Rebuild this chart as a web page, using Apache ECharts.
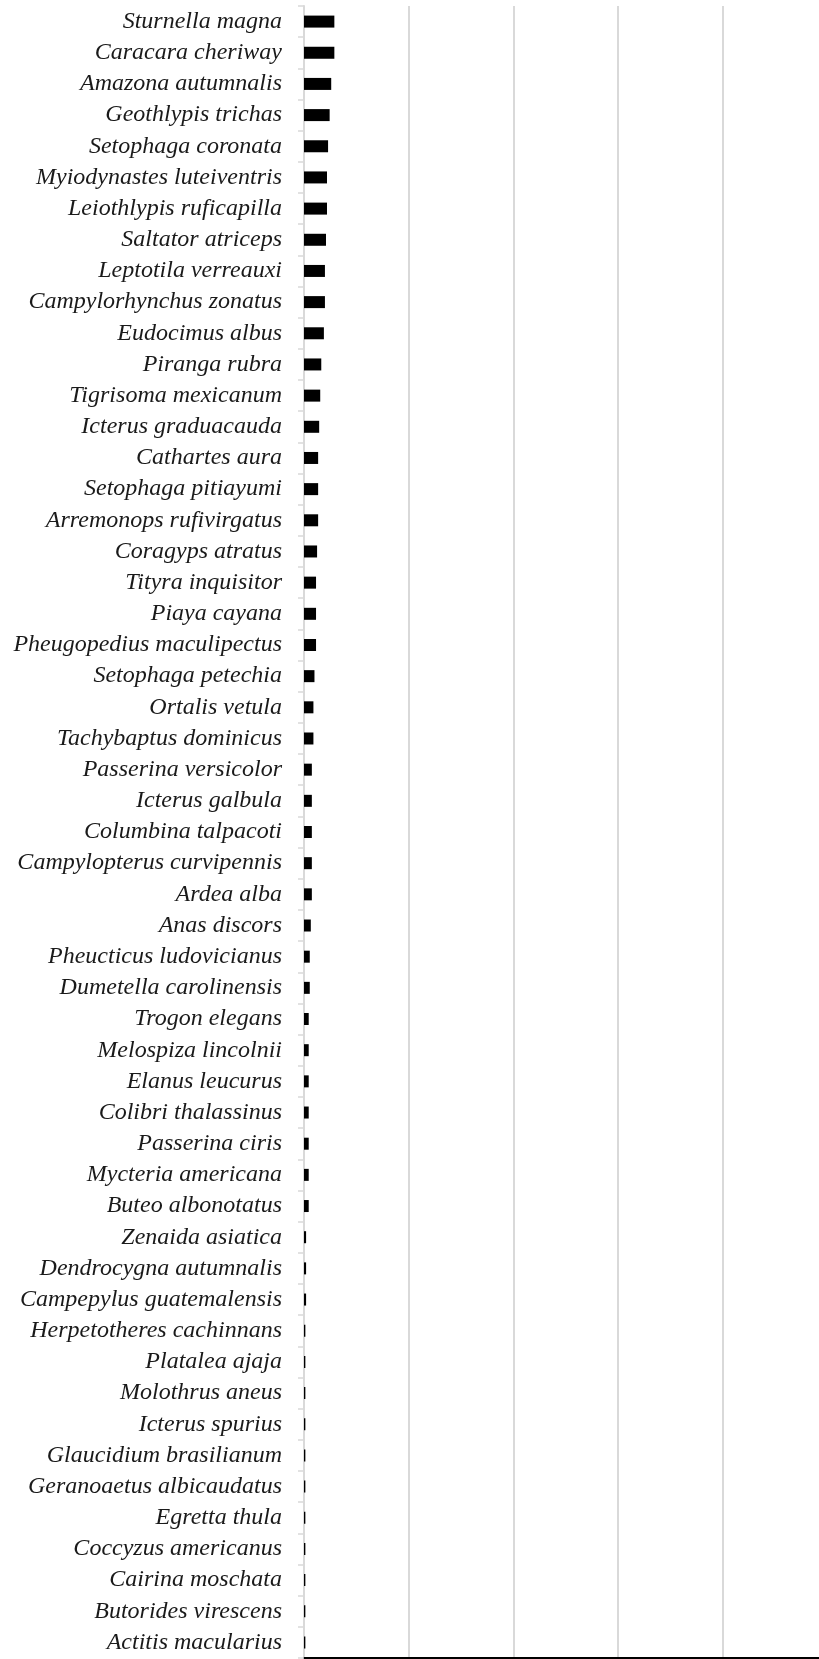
<!DOCTYPE html>
<html>
<head>
<meta charset="utf-8">
<script src="https://cdn.jsdelivr.net/npm/echarts@6/dist/echarts.min.js"></script>
<style>
html,body{margin:0;padding:0;background:#fff;}
#c{width:819px;height:1659px;}
</style>
</head>
<body>
<div id="c"></div>
<script>
const species = [
  "Sturnella magna","Caracara cheriway","Amazona autumnalis","Geothlypis trichas",
  "Setophaga coronata","Myiodynastes luteiventris","Leiothlypis ruficapilla","Saltator atriceps",
  "Leptotila verreauxi","Campylorhynchus zonatus","Eudocimus albus","Piranga rubra",
  "Tigrisoma mexicanum","Icterus graduacauda","Cathartes aura","Setophaga pitiayumi",
  "Arremonops rufivirgatus","Coragyps atratus","Tityra inquisitor","Piaya cayana",
  "Pheugopedius maculipectus","Setophaga petechia","Ortalis vetula","Tachybaptus dominicus",
  "Passerina versicolor","Icterus galbula","Columbina talpacoti","Campylopterus curvipennis",
  "Ardea alba","Anas discors","Pheucticus ludovicianus","Dumetella carolinensis",
  "Trogon elegans","Melospiza lincolnii","Elanus leucurus","Colibri thalassinus",
  "Passerina ciris","Mycteria americana","Buteo albonotatus","Zenaida asiatica",
  "Dendrocygna autumnalis","Campepylus guatemalensis","Herpetotheres cachinnans","Platalea ajaja",
  "Molothrus aneus","Icterus spurius","Glaucidium brasilianum","Geranoaetus albicaudatus",
  "Egretta thula","Coccyzus americanus","Cairina moschata","Butorides virescens",
  "Actitis macularius"
];
const values = [
  29, 29, 26, 24.5,
  23, 22, 22, 21,
  20, 20, 19, 16.5,
  15.5, 14.5, 13.5, 13.5,
  13.5, 12.5, 11.5, 11.5,
  11.5, 10, 9, 9,
  7.5, 7.5, 7.5, 7.5,
  7.5, 6.5, 5.5, 5.5,
  4.5, 4.5, 4.5, 4.5,
  4.5, 4.5, 4.5, 2,
  2, 2, 1.3, 1.3,
  1.3, 1.3, 1.3, 1.3,
  1.3, 1.3, 1.3, 1.3,
  1.3
];
// visible axis range is cut at the right page edge (next gridline lies beyond it)
const xMin = 0;
const xStep = 100;
const xMax = 492;

const chart = echarts.init(document.getElementById('c'), null, {renderer: 'canvas'});
chart.setOption({
  animation: false,
  backgroundColor: '#ffffff',
  grid: {left: 304, top: 6, right: 0, bottom: 1, containLabel: false},
  xAxis: {
    type: 'value',
    min: xMin,
    max: xMax,
    interval: xStep,
    axisLine: {show: true, lineStyle: {color: '#000000', width: 2}},
    axisTick: {show: false},
    axisLabel: {show: false},
    splitLine: {show: true, showMaxLine: false, lineStyle: {color: '#d9d9d9', width: 2}}
  },
  yAxis: {
    type: 'category',
    data: species,
    inverse: true,
    axisLine: {show: true, lineStyle: {color: '#d9d9d9', width: 2}},
    axisTick: {show: true, interval: 0, length: 6, lineStyle: {color: '#d9d9d9', width: 1.5}},
    axisLabel: {
      interval: 0,
      margin: 22,
      padding: [6, 0, 0, 0],
      fontFamily: '"Liberation Serif", "Times New Roman", serif',
      fontStyle: 'italic',
      fontSize: 24,
      color: '#1a1a1a'
    },
    splitLine: {show: false}
  },
  series: [{
    type: 'bar',
    data: values,
    barWidth: 12,
    itemStyle: {color: '#000000'}
  }]
});
</script>
</body>
</html>
